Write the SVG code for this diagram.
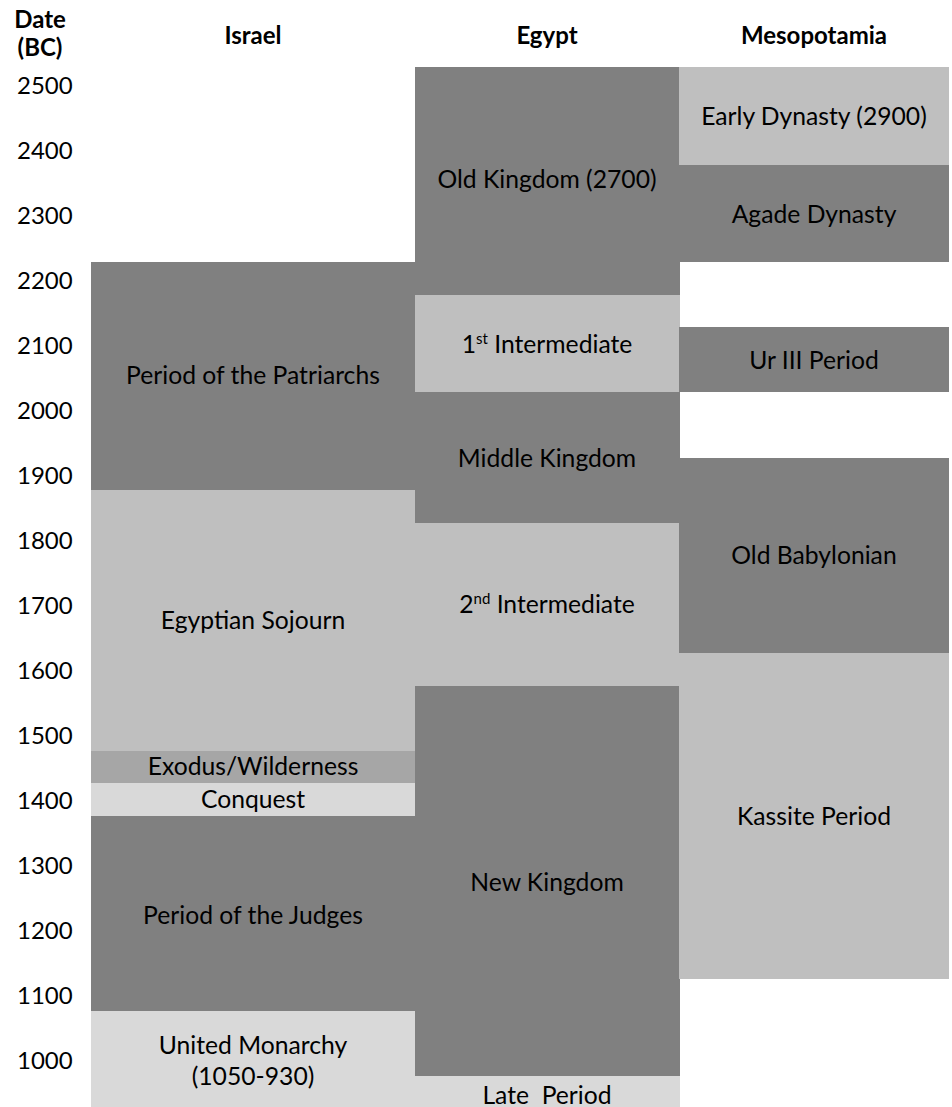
<svg xmlns="http://www.w3.org/2000/svg" width="952" height="1107" viewBox="0 0 952 1107">
<style>
text{font-family:Lato,"Open Sans","Liberation Sans",sans-serif;font-size:24.7px;fill:#000;text-anchor:middle}
.h{font-weight:bold;font-size:24px}
.d{text-anchor:start;font-size:24px}
.dk{fill:#808080}
.lt{fill:#BFBFBF}
.md{fill:#A6A6A6}
.pl{fill:#D9D9D9}
.sup{font-size:15px}
</style>
<rect width="952" height="1107" fill="#fff"/>
<g id="headers">
<text class="h" x="40" y="28">Date</text>
<text class="h" x="40" y="56">(BC)</text>
<text class="h" x="253" y="44">Israel</text>
<text class="h" x="547" y="44">Egypt</text>
<text class="h" x="814" y="44">Mesopotamia</text>
</g>
<g id="dates">
<text class="d" x="17" y="94">2500</text>
<text class="d" x="17" y="159">2400</text>
<text class="d" x="17" y="224">2300</text>
<text class="d" x="17" y="289">2200</text>
<text class="d" x="17" y="354">2100</text>
<text class="d" x="17" y="419">2000</text>
<text class="d" x="17" y="484">1900</text>
<text class="d" x="17" y="549">1800</text>
<text class="d" x="17" y="614">1700</text>
<text class="d" x="17" y="679">1600</text>
<text class="d" x="17" y="744">1500</text>
<text class="d" x="17" y="809">1400</text>
<text class="d" x="17" y="874">1300</text>
<text class="d" x="17" y="939">1200</text>
<text class="d" x="17" y="1004">1100</text>
<text class="d" x="17" y="1069">1000</text>
</g>
<g id="israel-patriarchs"><rect class="dk" x="91" y="262" width="324" height="228"/><text x="253" y="384">Period of the Patriarchs</text></g>
<g id="israel-sojourn"><rect class="lt" x="91" y="490" width="324" height="261"/><text x="253" y="629">Egyptian Sojourn</text></g>
<g id="israel-exodus"><rect class="md" x="91" y="751" width="324" height="32"/><text x="253" y="775">Exodus/Wilderness</text></g>
<g id="israel-conquest"><rect class="pl" x="91" y="783" width="324" height="33"/><text x="253" y="808">Conquest</text></g>
<g id="israel-judges"><rect class="dk" x="91" y="816" width="324" height="195"/><text x="253" y="924">Period of the Judges</text></g>
<g id="israel-monarchy"><rect class="pl" x="91" y="1011" width="324" height="96"/><text x="253" y="1054">United Monarchy</text><text x="253" y="1085">(1050-930)</text></g>
<g id="egypt-old"><rect class="dk" x="415" y="67" width="265" height="228"/><text x="547" y="188">Old Kingdom (2700)</text></g>
<g id="egypt-first"><rect class="lt" x="415" y="295" width="265" height="97"/><text x="547" y="353">1<tspan class="sup" dy="-9">st</tspan><tspan dy="9"> Intermediate</tspan></text></g>
<g id="egypt-middle"><rect class="dk" x="415" y="392" width="265" height="131"/><text x="547" y="467">Middle Kingdom</text></g>
<g id="egypt-second"><rect class="lt" x="415" y="523" width="265" height="163"/><text x="547" y="613">2<tspan class="sup" dy="-9">nd</tspan><tspan dy="9"> Intermediate</tspan></text></g>
<g id="egypt-new"><rect class="dk" x="415" y="686" width="265" height="390"/><text x="547" y="891">New Kingdom</text></g>
<g id="egypt-late"><rect class="pl" x="415" y="1076" width="265" height="31"/><text x="547" y="1104" xml:space="preserve">Late  Period</text></g>
<g id="meso-early"><rect class="lt" x="679" y="67" width="270" height="98"/><text x="814" y="125">Early Dynasty (2900)</text></g>
<g id="meso-agade"><rect class="dk" x="679" y="165" width="270" height="97"/><text x="814" y="223">Agade Dynasty</text></g>
<g id="meso-ur"><rect class="dk" x="679" y="327" width="270" height="65"/><text x="814" y="369">Ur III Period</text></g>
<g id="meso-oldbab"><rect class="dk" x="679" y="458" width="270" height="195"/><text x="814" y="564">Old Babylonian</text></g>
<g id="meso-kassite"><rect class="lt" x="679" y="653" width="270" height="326"/><text x="814" y="825">Kassite Period</text></g>
<g id="connectors"/>
</svg>
